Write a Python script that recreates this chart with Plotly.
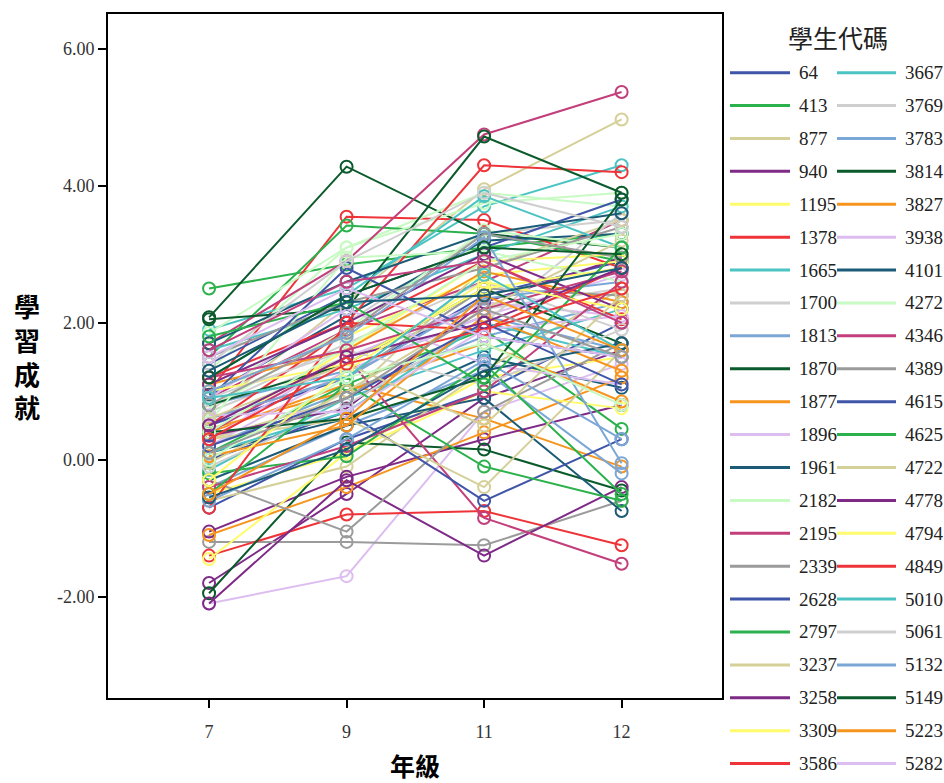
import plotly.graph_objects as go

grades = ["7", "9", "11", "12"]

legend_ids = ["64", "413", "877", "940", "1195", "1378", "1665", "1700", "1813", "1870", "1877",
              "1896", "1961", "2182", "2195", "2339", "2628", "2797", "3237", "3258", "3309", "3586",
              "3667", "3769", "3783", "3814", "3827", "3938", "4101", "4272", "4346", "4389", "4615",
              "4625", "4722", "4778", "4794", "4849", "5010", "5061", "5132", "5149", "5223", "5282"]

palette = ["#3F55A8", "#2BB24C", "#D5CF98", "#7E2A86", "#FFFB6A", "#EE3438", "#4CC3C3", "#CFCFCF",
           "#7BA7D7", "#0B5A2C", "#F7941E", "#DDBDF0", "#1B5B77", "#C8FAC3", "#C23F7C", "#9B9B9B"]

g7 = [0.5, 2.5, 0.7, -1.8, -0.5, 1.0, 1.9, 0.7, 0.2, 2.08, 0.4, -2.1, 0.1, 1.3, 0.9, -1.2,
      -0.7, 1.5, -0.6, -1.05, 0.4, -1.4, 1.6, 1.1, 0.8, -1.95, -1.1, 0.3, 0.95, 1.85, 1.7, 0.6,
      1.4, 0.1, 0.3, -2.1, -1.45, 1.2, -0.15, 0.75, -0.4, 2.05, 0.45, 0.2, -0.3, 0.75, 0.4, -0.3,
      0.0, -0.2, 0.3, 0.35, 1.0, 0.5, 1.2, -0.1, 0.6, 0.8, 1.1, 0.9, 1.7, 0.55, -0.4, 1.5,
      0.9, -0.5, -0.05, 1.1, 1.0, -0.7, 0.1, 0.9, -0.6, 0.4, 0.05, 0.65, -0.55, 0.4, 1.2, 0.8,
      0.2, 1.8, 0.6, 0.5, -0.3, 0.3, 0.9, 1.4, 1.0, 1.2, -0.5, 1.5, 1.3, 0.0, 1.6, 0.1]
g9 = [1.2, 2.85, 2.3, -0.5, 0.1, 3.55, 2.5, 1.5, 1.0, 4.28, 1.1, -1.7, 0.6, 3.1, 1.9, -1.2,
      0.3, 3.42, -0.1, -0.25, 1.6, -0.8, 2.2, 2.0, 1.3, 0.25, -0.4, 1.5, 2.1, 3.1, 2.9, 1.2,
      2.4, 1.1, 0.9, -0.3, 0.1, 2.0, 0.9, 1.7, 0.5, 2.2, 1.0, 1.3, 0.5, 1.9, 1.5, -1.05,
      0.7, 0.05, 0.6, 0.75, 1.8, 1.9, 2.4, 0.8, 1.2, 1.4, 1.6, 2.2, 2.6, 2.95, 0.2, 2.3,
      2.8, 1.1, 1.0, 2.0, 1.4, 2.0, 0.7, 1.6, 0.3, 0.6, 0.5, 0.7, 0.15, 1.65, 1.6, 1.85,
      0.9, 2.3, 1.4, 1.5, 1.3, 1.4, 1.2, 2.9, 1.8, 2.4, 0.6, 2.5, 2.3, 1.2, 2.6, 0.9]
g11 = [2.4, 3.1, 3.95, 0.9, 1.2, 3.5, 3.7, 2.2, 1.8, 3.3, 0.6, 0.7, 1.5, 3.9, 2.6, -1.25,
       1.0, 3.3, 1.3, 0.3, 2.9, -0.75, 3.0, 3.3, 2.1, 0.15, 0.4, 2.3, 3.2, 3.75, 4.75, 2.5,
       3.1, 1.9, 2.8, -1.4, 1.0, 4.3, 1.6, 2.6, 1.3, 4.72, 1.7, 2.1, 0.9, 3.35, -0.85, 0.7,
       -0.6, 1.4, -0.4, 2.3, 2.7, 2.9, 3.85, 2.0, 2.35, 2.5, 2.75, 1.4, 3.3, 3.05, 1.0, 2.8,
       1.8, -0.1, 2.2, 3.0, 2.5, 1.9, 2.0, 1.1, 1.45, 1.2, 2.1, 1.9, 1.3, 2.9, 2.2, 3.3,
       2.0, 1.1, 0.5, 2.0, 2.6, 1.9, 2.7, 3.9, 3.25, 3.1, 2.4, 1.8, 2.4, 1.7, 2.9, 2.2]
g12 = [2.9, 3.3, 4.97, 1.6, 1.5, 2.8, 4.3, 2.5, 2.3, 3.1, -0.1, 1.4, 1.05, 3.7, 3.5, -0.6,
       2.0, 2.9, 2.5, 0.8, 3.0, -1.25, 3.7, 3.5, 1.6, -0.45, 1.2, 2.1, 3.3, 3.9, 5.37, 2.4,
       3.8, 0.45, 3.5, -0.4, 0.75, 4.2, 2.2, 1.9, -0.2, 3.9, 0.85, 2.7, -0.75, 3.1, -1.52, 1.7,
       0.3, -0.5, 1.6, 2.95, 2.9, 2.05, 3.1, 3.6, 2.6, 1.7, 2.3, 1.1, 3.6, 2.6, 2.6, 3.4,
       1.5, -0.6, 3.2, 2.2, 2.8, 2.8, 1.5, 1.9, 0.3, 3.8, 1.3, 2.1, 1.7, 3.3, 2.75, 2.95,
       1.1, 3.1, 2.4, 2.8, 2.2, 2.5, 1.6, 3.4, -0.05, 3.0, 1.6, 1.5, 2.8, 0.8, 2.0, 1.5]

y_ticks = [-2, 0, 2, 4, 6]
y_ticktext = ["-2.00", "0.00", "2.00", "4.00", "6.00"]

SERIF = "Liberation Serif, Times New Roman, serif"
CJK = "Noto Sans CJK TC, Noto Sans CJK SC, sans-serif"

fig = go.Figure()
for i in range(len(g7)):
    name = legend_ids[i] if i < len(legend_ids) else f"student {i + 1}"
    color = palette[i % len(palette)]
    fig.add_trace(go.Scatter(
        x=grades, y=[g7[i], g9[i], g11[i], g12[i]],
        mode="lines+markers", name=name, showlegend=False,
        line=dict(color=color, width=2),
        marker=dict(symbol="circle-open", size=12, color=color, line=dict(width=2, color=color)),
    ))

W, H = 944, 783
L, R, T, B = 108, 722, 12, 698
pw, ph = R - L, B - T


def px_x(x):
    return (x - L) / pw


def px_y(y):
    return (B - y) / ph


shapes = []
annotations = []
for k, sid in enumerate(legend_ids):
    col, row = divmod(k, 22)
    yy = 70.8 + row * 33.0
    x0, x1, xt = (730, 790, 797) if col == 0 else (837, 896, 903)
    shapes.append(dict(type="line", xref="paper", yref="paper",
                       x0=px_x(x0), x1=px_x(x1), y0=px_y(yy), y1=px_y(yy),
                       line=dict(color=palette[k % len(palette)], width=3)))
    annotations.append(dict(xref="paper", yref="paper", x=px_x(xt), y=px_y(yy),
                            text=sid, showarrow=False, xanchor="left", yanchor="middle",
                            font=dict(family=SERIF, size=19, color="#222222")))

annotations.append(dict(xref="paper", yref="paper", x=px_x(838), y=px_y(35),
                        text="學生代碼", showarrow=False, xanchor="center", yanchor="middle",
                        font=dict(family=CJK, size=25, color="#222222")))
annotations.append(dict(xref="paper", yref="paper", x=px_x(27), y=0.5,
                        text="<b>學<br>習<br>成<br>就</b>", showarrow=False,
                        xanchor="center", yanchor="middle",
                        font=dict(family=CJK, size=26, color="#000000")))
annotations.append(dict(xref="paper", yref="paper", x=0.5, y=px_y(765),
                        text="<b>年級</b>", showarrow=False, xanchor="center", yanchor="middle",
                        font=dict(family=CJK, size=25, color="#000000")))

fig.update_layout(
    width=W, height=H,
    margin=dict(l=L, r=W - R, t=T, b=H - B, pad=0),
    paper_bgcolor="white", plot_bgcolor="white",
    showlegend=False,
    shapes=shapes, annotations=annotations,
    xaxis=dict(type="category", range=[-0.735, 3.73], showgrid=False, zeroline=False,
               showline=True, linecolor="black", linewidth=2, mirror=True,
               ticks="outside", ticklen=8, tickwidth=1.5, tickcolor="black",
               ticklabelstandoff=8,
               tickfont=dict(family=SERIF, size=18, color="#333333")),
    yaxis=dict(range=[-3.48, 6.51], showgrid=False, zeroline=False,
               showline=True, linecolor="black", linewidth=2, mirror=True,
               tickvals=y_ticks, ticktext=y_ticktext,
               ticks="outside", ticklen=8, tickwidth=1.5, tickcolor="black",
               tickfont=dict(family=SERIF, size=18, color="#333333")),
)

# remove the default 8px page margin so the figure fills the window exactly
fig.write_html("out.html",
               config={"displayModeBar": False},
               post_script="document.body.style.margin='0';document.body.style.overflow='hidden';")
